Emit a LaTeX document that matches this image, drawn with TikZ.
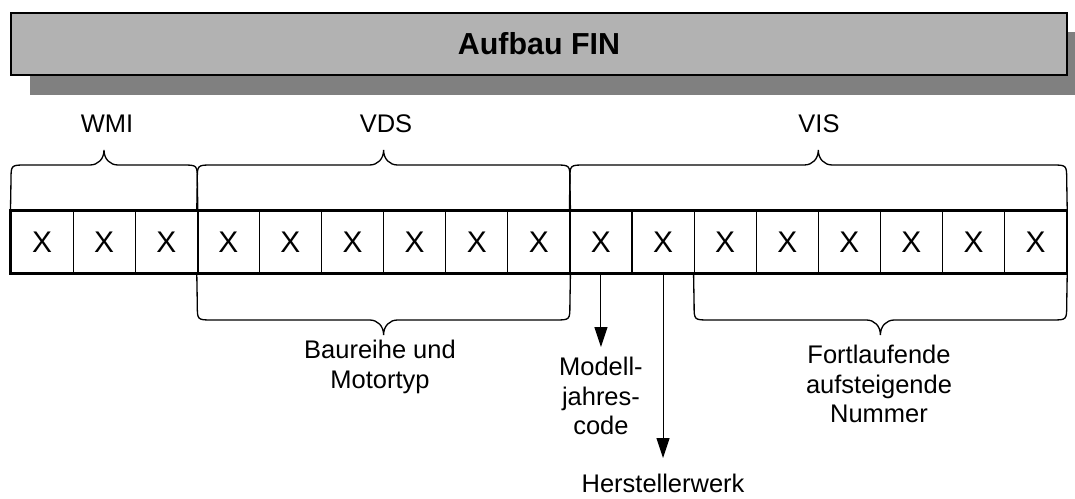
\documentclass[tikz,border=0pt]{standalone}
\usepackage{fontspec}
\setmainfont{Liberation Sans}
\usetikzlibrary{positioning}
\usetikzlibrary{arrows.meta}
\definecolor{titlegray}{gray}{0.70}
\definecolor{shadowgray}{gray}{0.50}

\begin{document}
\begin{tikzpicture}[x=0.02cm,y=-0.02cm,
  cell/.style={draw,line width=0.6pt,minimum width=1.242cm,minimum height=1.24cm,inner sep=0pt,font=\fontsize{17}{20}\selectfont},
  lbl/.style={inner sep=0pt,align=center,font=\fontsize{14.5}{16.7}\selectfont},
  brace/.style={line width=0.75pt},
  arr/.style={line width=0.6pt,-{Triangle[length=0.4cm,width=0.26cm]}}]

\useasboundingbox (0,0) rectangle (1075,499);

% title bar
\fill[shadowgray] (30,32) rectangle (1075,95);
\node[draw,line width=1pt,fill=titlegray,minimum width=21.12cm,minimum height=1.24cm,font=\fontsize{17.3}{20}\selectfont\bfseries] (title) at (539,44) {Aufbau FIN};

% the 17 positions
\foreach \i in {1,...,17}
  \node[cell] (c\i) at ({42.05+62.1*(\i-1)},242) {X};
\draw[line width=1.2pt] (c1.north west) rectangle (c17.south east);
\draw[line width=1.2pt] (c3.north east) -- (c3.south east);
\draw[line width=1.2pt] (c9.north east) -- (c9.south east);

% upper braces
\draw[brace] (c1.north west) -- (11,180) .. controls (11,165) .. (26,165) -- (90,165) .. controls (98,165) and (104,159) .. (104,150) .. controls (104,159) and (110,165) .. (118,165) -- (182.3,165) .. controls (197.3,165) .. (197.3,180) -- (c3.north east);
\draw[brace] (c4.north west) -- (197.3,180) .. controls (197.3,165) .. (212.3,165) -- (369.6,165) .. controls (377.6,165) and (383.6,159) .. (383.6,150) .. controls (383.6,159) and (389.6,165) .. (397.6,165) -- (554.9,165) .. controls (569.9,165) .. (569.9,180) -- (c9.north east);
\draw[brace] (c10.north west) -- (569.9,180) .. controls (569.9,165) .. (584.9,165) -- (804.3,165) .. controls (812.3,165) and (818.3,159) .. (818.3,150) .. controls (818.3,159) and (824.3,165) .. (832.3,165) -- (1051.7,165) .. controls (1066.7,165) .. (1066.7,180) -- (c17.north east);

% lower braces
\draw[brace] (c4.south west) -- (197.3,305) .. controls (197.3,320) .. (212.3,320) -- (369.6,320) .. controls (377.6,320) and (383.6,326) .. (383.6,335) .. controls (383.6,326) and (389.6,320) .. (397.6,320) -- (554.9,320) .. controls (569.9,320) .. (569.9,305) -- (c9.south east);
\draw[brace] (c12.south west) -- (694.1,305) .. controls (694.1,320) .. (709.1,320) -- (866.4,320) .. controls (874.4,320) and (880.4,326) .. (880.4,335) .. controls (880.4,326) and (886.4,320) .. (894.4,320) -- (1051.7,320) .. controls (1066.7,320) .. (1066.7,305) -- (c17.south east);

% labels
\node[lbl] (wmi) at (107,124) {WMI};
\node[lbl] (vds) at (386,124) {VDS};
\node[lbl] (vis) at (819,124) {VIS};
\node[lbl] (baureihe) at (380,367) {Baureihe und\\Motortyp};
\node[lbl] (nummer) at (879,384) {Fortlaufende\\aufsteigende\\Nummer};
\node[lbl,anchor=north] (modell) at (c10.south |- 0,357) {Modell-\\jahres-\\code};
\node[lbl,anchor=north] (werk) at (c11.south |- 0,474) {Herstellerwerk};

% arrows
\draw[arr] (c10.south) -- ([yshift=0.2cm]modell.north);
\draw[arr] (c11.south) -- ([yshift=0.32cm]werk.north);

\end{tikzpicture}
\end{document}
